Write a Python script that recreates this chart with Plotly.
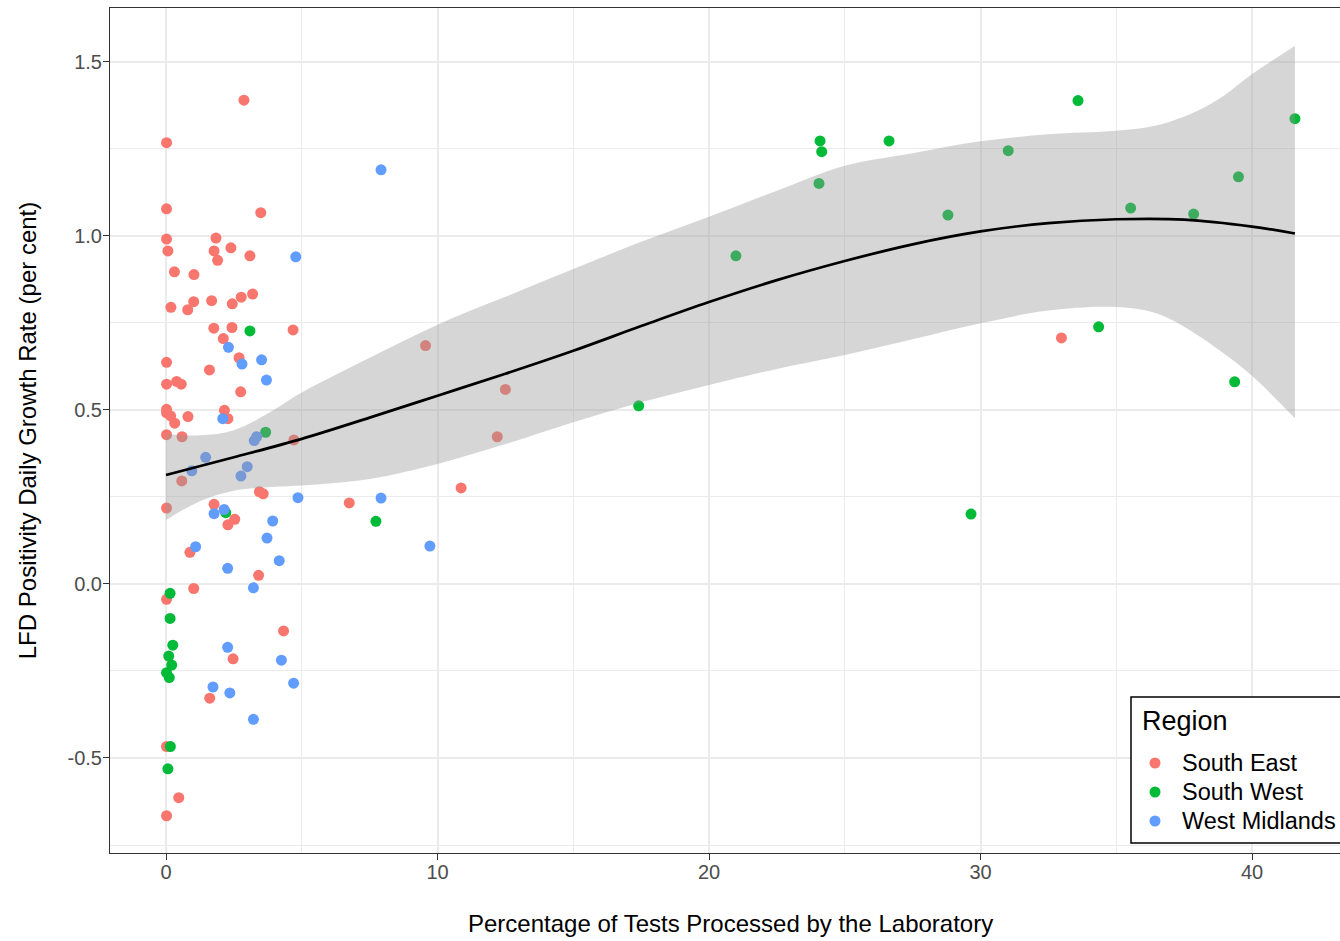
import plotly.graph_objects as go

# ---------------- data ----------------
se_x = [2.87, 0.02, 0.02, 3.49, 0.02, 1.84, 0.07, 1.77, 2.39, 1.90, 3.09, 0.31, 1.03, 0.18, 0.80,
        1.02, 1.68, 2.44, 2.77, 3.19, 1.76, 2.43, 4.68, 2.11, 0.02, 2.69, 1.60, 0.02, 0.39, 0.56,
        2.75, 0.02, 0.02, 0.17, 0.32, 0.81, 2.15, 2.28, 0.02, 0.59, 4.71, 0.58, 3.44, 3.58, 0.02,
        1.77, 2.53, 2.28, 0.88, 3.41, 1.02, 0.02, 4.33, 2.47, 1.61, 0.02, 0.47, 0.02, 6.75, 9.56,
        12.50, 12.20, 10.87, 32.98]
se_y = [1.390, 1.268, 1.078, 1.067, 0.991, 0.994, 0.957, 0.957, 0.966, 0.930, 0.943, 0.897, 0.889,
        0.795, 0.788, 0.811, 0.814, 0.805, 0.824, 0.833, 0.735, 0.737, 0.730, 0.705, 0.637, 0.650,
        0.615, 0.574, 0.582, 0.574, 0.552, 0.502, 0.492, 0.483, 0.462, 0.481, 0.499, 0.475, 0.429,
        0.423, 0.414, 0.296, 0.265, 0.259, 0.218, 0.229, 0.186, 0.170, 0.091, 0.025, -0.013, -0.044,
        -0.135, -0.215, -0.328, -0.467, -0.614, -0.666, 0.233, 0.685, 0.559, 0.423, 0.276, 0.707]

sw_x = [3.09, 3.67, 2.20, 0.15, 0.15, 0.25, 0.10, 0.21, 0.02, 0.12, 0.16, 0.07, 7.73, 17.41,
        20.99, 24.09, 24.15, 24.05, 26.63, 28.80, 29.65, 31.02, 33.59, 34.35, 35.53, 37.85, 39.36,
        39.50, 41.58]
sw_y = [0.727, 0.436, 0.205, -0.027, -0.099, -0.176, -0.207, -0.233, -0.255, -0.269, -0.467, -0.531,
        0.180, 0.512, 0.943, 1.273, 1.242, 1.151, 1.273, 1.060, 0.201, 1.245, 1.389, 0.739, 1.080,
        1.063, 0.581, 1.170, 1.337]

wm_x = [4.78, 2.30, 3.52, 2.80, 3.70, 2.09, 3.34, 3.25, 1.46, 0.95, 2.99, 2.76, 4.86, 1.77, 2.14,
        3.93, 3.72, 1.09, 4.17, 2.27, 3.22, 2.27, 4.25, 1.73, 4.70, 2.35, 3.22, 7.92, 7.92, 9.72]
wm_y = [0.940, 0.680, 0.644, 0.632, 0.586, 0.475, 0.423, 0.412, 0.364, 0.325, 0.337, 0.310, 0.248,
        0.202, 0.214, 0.181, 0.132, 0.107, 0.067, 0.045, -0.011, -0.182, -0.219, -0.296, -0.285,
        -0.313, -0.389, 1.190, 0.247, 0.109]

# loess smoother
fit_x = [0, 2.5, 5, 7.5, 10, 12.5, 15, 17.5, 20, 22.5, 25, 27.5, 30, 32.5, 35, 37.5, 40, 41.58]
fit_y = [0.313, 0.364, 0.417, 0.478, 0.541, 0.604, 0.670, 0.741, 0.810, 0.873, 0.928, 0.976, 1.013,
         1.037, 1.048, 1.047, 1.027, 1.007]

band_x = [0, 1.25, 2.5, 3.75, 5, 7.5, 10, 12.5, 15, 17.5, 20, 22.5, 25, 27.5, 30, 32.5, 35, 36.5,
          38, 39, 40, 41.58]
band_upper = [0.430, 0.427, 0.442, 0.490, 0.550, 0.650, 0.745, 0.825, 0.905, 0.983, 1.055, 1.130,
              1.202, 1.238, 1.272, 1.292, 1.302, 1.318, 1.360, 1.405, 1.465, 1.546]
band_lower = [0.184, 0.238, 0.268, 0.278, 0.283, 0.302, 0.345, 0.402, 0.465, 0.522, 0.572, 0.618,
              0.658, 0.703, 0.749, 0.786, 0.796, 0.777, 0.715, 0.660, 0.598, 0.476]

regions = ["South East", "South West", "West Midlands"]
colors = ["#F8766D", "#00BA38", "#619CFF"]

x_ticks = [0, 10, 20, 30, 40]
y_ticks = [-0.5, 0.0, 0.5, 1.0, 1.5]
y_tick_text = ["-0.5", "0.0", "0.5", "1.0", "1.5"]

x_title = "Percentage of Tests Processed by the Laboratory"
y_title = "LFD Positivity Daily Growth Rate (per cent)"

FONT = "Liberation Sans, Arial, sans-serif"

# layout geometry (pixels)
W, H = 1340, 941
ML, MR, MT, MB = 110, 0, 8, 88
PW, PH = W - ML - MR, H - MT - MB


def px_x(p):
    return (p - ML) / PW


def px_y(p):
    return (H - MB - p) / PH


fig = go.Figure()

for name, xs, ys, c in zip(regions, [se_x, sw_x, wm_x], [se_y, sw_y, wm_y], colors):
    fig.add_trace(go.Scatter(x=xs, y=ys, mode="markers", name=name, showlegend=False,
                             marker=dict(color=c, size=11, line=dict(width=0))))

# confidence ribbon
fig.add_trace(go.Scatter(x=band_x, y=band_lower, mode="lines",
                         line=dict(width=0, shape="spline", color="rgba(0,0,0,0)"),
                         showlegend=False, hoverinfo="skip"))
fig.add_trace(go.Scatter(x=band_x, y=band_upper, mode="lines", fill="tonexty",
                         fillcolor="rgba(153,153,153,0.4)",
                         line=dict(width=0, shape="spline", color="rgba(0,0,0,0)"),
                         showlegend=False, hoverinfo="skip"))
# smooth line
fig.add_trace(go.Scatter(x=fit_x, y=fit_y, mode="lines",
                         line=dict(color="black", width=2.7, shape="spline"),
                         showlegend=False, hoverinfo="skip"))

# ---- legend (drawn like ggplot's, running off the right edge) ----
shapes = [dict(type="rect", xref="paper", yref="paper",
               x0=px_x(1131), x1=px_x(1400), y0=px_y(843), y1=px_y(697),
               line=dict(color="black", width=1.5), fillcolor="white", layer="above")]
annotations = [dict(text="Region", xref="paper", yref="paper", x=px_x(1140), y=px_y(721),
                    xanchor="left", yanchor="middle", showarrow=False,
                    font=dict(size=27, family=FONT, color="black"))]
item_y = [763, 792, 821]
for name, c, iy in zip(regions, colors, item_y):
    shapes.append(dict(type="circle", xref="paper", yref="paper",
                       xsizemode="pixel", ysizemode="pixel",
                       xanchor=px_x(1155), yanchor=px_y(iy),
                       x0=-5.5, x1=5.5, y0=-5.5, y1=5.5,
                       fillcolor=c, line=dict(width=0), layer="above"))
    annotations.append(dict(text=name, xref="paper", yref="paper", x=px_x(1180), y=px_y(iy),
                            xanchor="left", yanchor="middle", showarrow=False,
                            font=dict(size=23.5, family=FONT, color="black")))

# x-axis title, centred on the full (partly off-screen) panel like the original
annotations.append(dict(text=x_title, xref="paper", yref="paper", x=px_x(730.5), y=px_y(923),
                        xanchor="center", yanchor="middle", showarrow=False,
                        font=dict(size=24, family=FONT, color="black")))

fig.update_layout(
    width=W, height=H,
    margin=dict(l=ML, r=MR, t=MT, b=MB, autoexpand=False),
    plot_bgcolor="white", paper_bgcolor="white",
    font=dict(family=FONT, color="black"),
    showlegend=False,
    shapes=shapes,
    annotations=annotations,
)

fig.update_xaxes(
    range=[-2.063, 43.24], tickvals=x_ticks, ticktext=[str(v) for v in x_ticks],
    showgrid=True, gridcolor="#EBEBEB", gridwidth=1.5, zeroline=False,
    minor=dict(dtick=5, tick0=0, showgrid=True, gridcolor="#EBEBEB", gridwidth=0.8, ticklen=0),
    showline=True, linecolor="#333333", linewidth=1, mirror=True,
    ticks="outside", ticklen=6, tickwidth=1, tickcolor="#333333",
    ticklabelstandoff=-5,
    tickfont=dict(size=20, color="#4D4D4D", family=FONT),
    automargin=False,
)
fig.update_yaxes(
    range=[-0.773, 1.655], tickvals=y_ticks, ticktext=y_tick_text,
    showgrid=True, gridcolor="#EBEBEB", gridwidth=1.5, zeroline=False,
    minor=dict(dtick=0.25, tick0=0.25, showgrid=True, gridcolor="#EBEBEB", gridwidth=0.8, ticklen=0),
    showline=True, linecolor="#333333", linewidth=1, mirror=False,
    ticks="outside", ticklen=6, tickwidth=1, tickcolor="#333333",
    ticklabelstandoff=-3,
    tickfont=dict(size=20, color="#4D4D4D", family=FONT),
    title=dict(text=y_title, font=dict(size=24, family=FONT, color="black"), standoff=24),
    automargin=False,
)

fig.write_html("out.html")
